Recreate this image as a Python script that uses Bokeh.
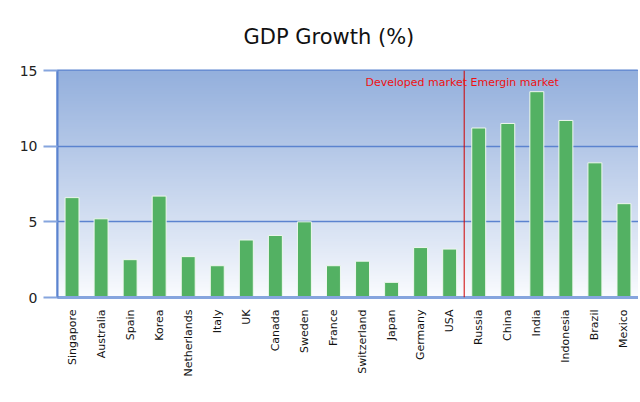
import numpy as np
from bokeh.plotting import figure
from bokeh.models import FactorRange, Range1d, Span, Label
from bokeh.embed import file_html
from bokeh.resources import INLINE

developed = ["Singapore", "Australia", "Spain", "Korea", "Netherlands", "Italy", "UK",
             "Canada", "Sweden", "France", "Switzerland", "Japan", "Germany", "USA"]
emerging = ["Russia", "China", "India", "Indonesia", "Brazil", "Mexico"]
countries = developed + emerging
growth_developed = [6.6, 5.2, 2.5, 6.7, 2.7, 2.1, 3.8, 4.1, 5.0, 2.1, 2.4, 1.0, 3.3, 3.2]
growth_emerging = [11.2, 11.5, 13.6, 11.7, 8.9, 6.2]
growth = growth_developed + growth_emerging
y_ticks = [0, 5, 10, 15]
title_text = "GDP Growth (%)"
annotation_text = "Developed market Emergin market"

FONT = "DejaVu Sans"
BLUE = "#5b83cf"
LIGHT_BLUE = "#86a5de"

p = figure(x_range=FactorRange(*countries, range_padding=0), y_range=Range1d(0, 15),
           width=638, height=398, output_backend="svg", toolbar_location=None,
           min_border_left=57, min_border_right=0, min_border_top=70, min_border_bottom=101,
           background_fill_color="white", border_fill_color="white")

# gradient background of the plot area
n = 200
img = np.empty((n, 1), dtype=np.uint32)
view = img.view(dtype=np.uint8).reshape((n, 1, 4))
t = np.linspace(0, 1, n) ** 0.9
top = np.array([148, 176, 221])
bot = np.array([252, 253, 255])
for i in range(n):
    c = bot + (top - bot) * t[i]
    view[i, 0, 0] = int(c[0]); view[i, 0, 1] = int(c[1]); view[i, 0, 2] = int(c[2]); view[i, 0, 3] = 255
p.image_rgba(image=[img], x=0, y=0, dw=len(countries), dh=15, level="image")

p.vbar(x=countries, top=growth, width=0.48, fill_color="#53b163",
       line_color="#eef8ee", line_width=1)

p.add_layout(Span(location=len(developed), dimension="height", line_color="#d00000", line_width=1))
p.add_layout(Label(x=10.6, y=14.2, text=annotation_text, text_color="#ee1111",
                   text_font=FONT, text_font_size="11px", text_baseline="middle", text_align="left"))

p.title.text = title_text
p.title.text_font = FONT
p.title.text_font_size = "21px"
p.title.text_font_style = "normal"
p.title.text_color = "#111111"
p.title.align = "left"
p.title.offset = 186
p.title.standoff = 44

p.outline_line_color = BLUE
p.outline_line_width = 2
p.outline_line_alpha = 1

p.xgrid.visible = False
p.ygrid.grid_line_color = BLUE
p.ygrid.grid_line_width = 1.5
p.ygrid.ticker = y_ticks

p.yaxis.ticker = y_ticks
p.yaxis.major_tick_out = 14
p.yaxis.major_tick_in = 0
p.yaxis.minor_tick_line_color = None
p.yaxis.major_tick_line_color = LIGHT_BLUE
p.yaxis.major_tick_line_width = 2
p.yaxis.axis_line_color = BLUE
p.yaxis.axis_line_width = 2
p.yaxis.major_label_text_font = FONT
p.yaxis.major_label_text_font_size = "14px"
p.yaxis.major_label_text_color = "#222222"
p.yaxis.major_label_standoff = 6

p.xaxis.major_label_orientation = np.pi / 2
p.xaxis.major_tick_line_color = None
p.xaxis.axis_line_color = LIGHT_BLUE
p.xaxis.axis_line_width = 3
p.xaxis.major_label_text_font = FONT
p.xaxis.major_label_text_font_size = "11px"
p.xaxis.major_label_text_color = "#111111"
p.xaxis.major_label_standoff = 6

open("out.html", "w").write(file_html(p, INLINE))
